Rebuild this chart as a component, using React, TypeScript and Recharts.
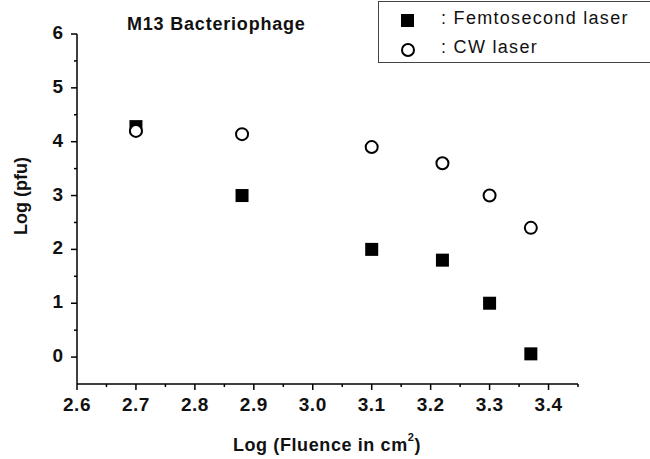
import { Label, Scatter, ScatterChart, XAxis, YAxis } from 'recharts'

const FEMTO_X = [2.7, 2.88, 3.1, 3.22, 3.3, 3.37]
const FEMTO_Y = [4.28, 3.0, 2.0, 1.8, 1.0, 0.06]
const CW_X = [2.7, 2.88, 3.1, 3.22, 3.3, 3.37]
const CW_Y = [4.2, 4.14, 3.9, 3.6, 3.0, 2.4]

const X_TICKS = [2.6, 2.65, 2.7, 2.75, 2.8, 2.85, 2.9, 2.95, 3.0, 3.05, 3.1, 3.15, 3.2, 3.25, 3.3, 3.35, 3.4, 3.45]
const Y_TICKS = [-0.5, 0, 0.5, 1, 1.5, 2, 2.5, 3, 3.5, 4, 4.5, 5, 5.5, 6]

const FONT = '"Liberation Sans", Arial, Helvetica, sans-serif'

const femtoData = FEMTO_X.map((x, i) => ({ x, y: FEMTO_Y[i] }))
const cwData = CW_X.map((x, i) => ({ x, y: CW_Y[i] }))

function isMajor(value: number, step: number) {
  const k = value / step
  return Math.abs(k - Math.round(k)) < 1e-6
}

function XTick({ x, y, payload }: any) {
  const major = isMajor(payload.value, 0.1)
  return (
    <g>
      <line x1={x} x2={x} y1={y} y2={y + (major ? 6 : 3)} stroke="#000" strokeWidth={1.5} />
      {major && (
        <text x={x} y={y + 22} textAnchor="middle" dominantBaseline="middle" fontFamily={FONT} fontSize={19} fontWeight={700} fill="#111" letterSpacing={0.5}>
          {payload.value.toFixed(1)}
        </text>
      )}
    </g>
  )
}

function YTick({ x, y, payload }: any) {
  const major = isMajor(payload.value, 1)
  if (payload.value < 0) return <g />
  return (
    <g>
      <line x1={x - (major ? 6 : 3)} x2={x} y1={y} y2={y} stroke="#000" strokeWidth={1.5} />
      {major && (
        <text x={x - 14} y={y} textAnchor="end" dominantBaseline="middle" fontFamily={FONT} fontSize={19} fontWeight={700} fill="#111">
          {payload.value}
        </text>
      )}
    </g>
  )
}

function SquareShape({ cx, cy }: any) {
  return <rect x={cx - 6.5} y={cy - 6.5} width={13} height={13} fill="#000" />
}

function CircleShape({ cx, cy }: any) {
  return <circle cx={cx} cy={cy} r={6} fill="#fff" stroke="#000" strokeWidth={2} />
}

export default function App() {
  return (
    <div style={{ position: 'absolute', left: 0, top: 0, width: 650, height: 459, background: '#fff' }}>
      <ScatterChart width={650} height={459} margin={{ top: 34, right: 72, bottom: 0, left: 0 }}>
        <XAxis
          type="number"
          dataKey="x"
          domain={[2.6, 3.45]}
          ticks={X_TICKS}
          tick={<XTick />}
          tickSize={0}
          tickMargin={0}
          tickLine={false}
          interval={0}
          height={75}
          axisLine={{ stroke: '#000', strokeWidth: 1.5 }}
        >
          <Label
            content={() => (
              <text x={327} y={446} textAnchor="middle" dominantBaseline="middle" fontFamily={FONT} fontSize={18} fontWeight={700} fill="#111" letterSpacing={0.6}>
                <tspan>Log (Fluence in cm</tspan>
                <tspan dy={-8} fontSize={11}>2</tspan>
                <tspan dy={8}>)</tspan>
              </text>
            )}
          />
        </XAxis>
        <YAxis
          type="number"
          dataKey="y"
          domain={[-0.5, 6]}
          ticks={Y_TICKS}
          tick={<YTick />}
          tickSize={0}
          tickMargin={0}
          tickLine={false}
          interval={0}
          width={77}
          axisLine={{ stroke: '#000', strokeWidth: 1.5 }}
        >
          <Label
            content={() => (
              <text x={22} y={196} transform="rotate(-90, 22, 196)" textAnchor="middle" dominantBaseline="middle" fontFamily={FONT} fontSize={18} fontWeight={700} fill="#111">
                Log (pfu)
              </text>
            )}
          />
        </YAxis>
        <Scatter data={femtoData} shape={<SquareShape />} isAnimationActive={false} />
        <Scatter data={cwData} shape={<CircleShape />} isAnimationActive={false} />
      </ScatterChart>

      <div
        style={{
          position: 'absolute',
          left: 127,
          top: 14,
          fontFamily: FONT,
          fontSize: 18,
          fontWeight: 700,
          color: '#111',
          whiteSpace: 'nowrap',
          letterSpacing: 0.8,
        }}
      >
        M13 Bacteriophage
      </div>

      <div
        style={{
          position: 'absolute',
          left: 378,
          top: 1,
          width: 280,
          height: 62,
          border: '1.5px solid #444',
          boxSizing: 'border-box',
          fontFamily: FONT,
          fontSize: 18,
          color: '#111',
          background: '#fff',
        }}
      >
        <div style={{ position: 'absolute', left: 22, top: 12, width: 13, height: 13, background: '#000' }} />
        <div
          style={{
            position: 'absolute',
            left: 22,
            top: 41,
            width: 10,
            height: 10,
            borderRadius: '50%',
            border: '2px solid #000',
          }}
        />
        <div style={{ position: 'absolute', left: 62, top: 6, whiteSpace: 'nowrap', letterSpacing: 1.3 }}>: Femtosecond laser</div>
        <div style={{ position: 'absolute', left: 62, top: 35, whiteSpace: 'nowrap', letterSpacing: 1.3 }}>: CW laser</div>
      </div>
    </div>
  )
}
